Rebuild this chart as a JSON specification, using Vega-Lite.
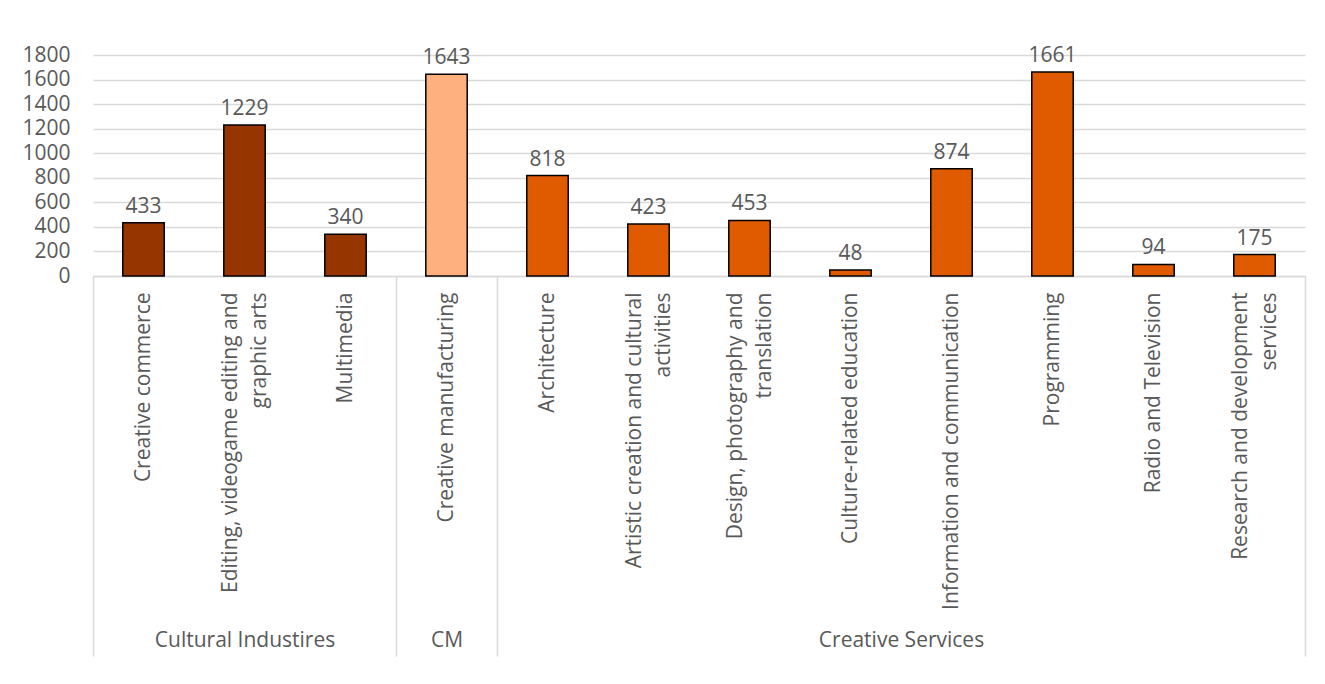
{
  "$schema": "https://vega.github.io/schema/vega-lite/v6.json",
  "width": 1212,
  "height": 221,
  "autosize": {"type": "none"},
  "padding": {"left": 93, "top": 55, "right": 20, "bottom": 408},
  "background": "white",
  "config": {"view": {"stroke": null}, "font": "Open Sans"},
  "layer": [
    {
      "data": {
        "values": [
          {"category": "Creative commerce", "group": "Cultural Industires", "value": 433},
          {"category": "Editing, videogame editing and\ngraphic arts", "group": "Cultural Industires", "value": 1229},
          {"category": "Multimedia", "group": "Cultural Industires", "value": 340},
          {"category": "Creative manufacturing", "group": "CM", "value": 1643},
          {"category": "Architecture", "group": "Creative Services", "value": 818},
          {"category": "Artistic creation and cultural\nactivities", "group": "Creative Services", "value": 423},
          {"category": "Design, photography and\ntranslation", "group": "Creative Services", "value": 453},
          {"category": "Culture-related education", "group": "Creative Services", "value": 48},
          {"category": "Information and communication", "group": "Creative Services", "value": 874},
          {"category": "Programming", "group": "Creative Services", "value": 1661},
          {"category": "Radio and Television", "group": "Creative Services", "value": 94},
          {"category": "Research and development\nservices", "group": "Creative Services", "value": 175}
        ]
      },
      "encoding": {
        "x": {
          "field": "category",
          "type": "nominal",
          "sort": null,
          "scale": {"type": "band", "paddingInner": 0.59, "paddingOuter": 0.295},
          "axis": {
            "title": null,
            "orient": "bottom",
            "labelAngle": -90,
            "labelAlign": "right",
            "labelBaseline": "middle",
            "labelPadding": 16,
            "labelOffset": {"condition": {"test": "indexof(datum.value, '\\n') >= 0", "value": -14}, "value": 0},
            "ticks": false,
            "tickSize": 0,
            "domainColor": "#d9d9d9",
            "domainWidth": 1.5,
            "labelFontSize": 21,
            "labelColor": "#595959",
            "labelLimit": 600,
            "labelLineHeight": 29,
            "labelExpr": "split(datum.label, '\\n')"
          }
        },
        "y": {
          "field": "value",
          "type": "quantitative",
          "scale": {"domain": [0, 1800], "nice": false},
          "axis": {
            "title": null,
            "format": "d",
            "values": [0, 200, 400, 600, 800, 1000, 1200, 1400, 1600, 1800],
            "domain": false,
            "ticks": false,
            "labelPadding": 23,
            "labelFontSize": 21,
            "labelColor": "#595959",
            "gridColor": "#d9d9d9",
            "gridWidth": 1.3
          }
        }
      },
      "layer": [
        {
          "mark": {"type": "bar", "stroke": "black", "strokeWidth": 1.5},
          "encoding": {
            "color": {
              "field": "group",
              "type": "nominal",
              "scale": {
                "domain": ["Cultural Industires", "CM", "Creative Services"],
                "range": ["#973500", "#FFB07E", "#E05A00"]
              },
              "legend": null
            }
          }
        },
        {
          "mark": {"type": "text", "baseline": "alphabetic", "dy": -10, "fontSize": 21, "color": "#595959"},
          "encoding": {"text": {"field": "value", "type": "quantitative"}}
        }
      ]
    },
    {
      "data": {"values": [{"pos": 0}, {"pos": 3}, {"pos": 4}, {"pos": 12}]},
      "mark": {"type": "rule", "strokeOpacity": 0},
      "encoding": {
        "x": {
          "field": "pos",
          "type": "quantitative",
          "scale": {"domain": [0, 12], "nice": false, "zero": false},
          "axis": {
            "title": null,
            "orient": "bottom",
            "values": [0, 3, 4, 12],
            "labels": false,
            "domain": false,
            "grid": false,
            "ticks": true,
            "tickSize": 380,
            "tickColor": "#d9d9d9",
            "tickWidth": 1.5
          }
        }
      }
    },
    {
      "data": {
        "values": [
          {"group": "Cultural Industires", "mid": 1.5},
          {"group": "CM", "mid": 3.5},
          {"group": "Creative Services", "mid": 8}
        ]
      },
      "mark": {"type": "rule", "strokeOpacity": 0},
      "encoding": {
        "x": {
          "field": "mid",
          "type": "quantitative",
          "scale": {"domain": [0, 12], "nice": false, "zero": false},
          "axis": {
            "title": null,
            "orient": "bottom",
            "values": [1.5, 3.5, 8],
            "labelExpr": "datum.value == 1.5 ? 'Cultural Industires' : datum.value == 3.5 ? 'CM' : 'Creative Services'",
            "domain": false,
            "grid": false,
            "ticks": false,
            "tickSize": 0,
            "labelPadding": 364,
            "labelBaseline": "middle",
            "labelFontSize": 21,
            "labelColor": "#595959",
            "labelLimit": 400
          }
        }
      }
    }
  ],
  "resolve": {"scale": {"x": "independent"}, "axis": {"x": "independent"}}
}
